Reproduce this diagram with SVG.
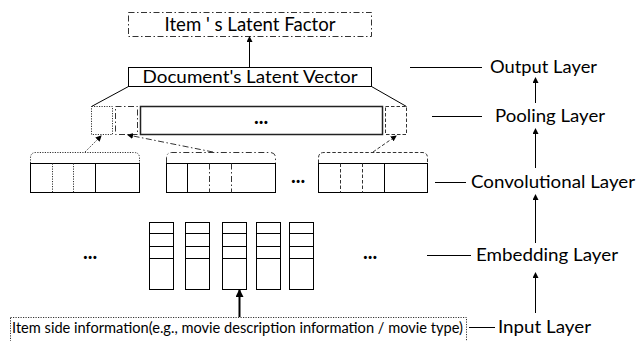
<svg xmlns="http://www.w3.org/2000/svg" width="639" height="341" viewBox="0 0 639 341">
  <defs>
    <marker id="tip" markerWidth="6" markerHeight="6" refX="5" refY="3" orient="auto" markerUnits="userSpaceOnUse">
      <path d="M0,0 L6,3 L0,6 Z" fill="#000"/>
    </marker>
    <marker id="tipBig" markerWidth="8" markerHeight="8" refX="7" refY="4" orient="auto" markerUnits="userSpaceOnUse">
      <path d="M0,0 L8,4 L0,8 Z" fill="#000"/>
    </marker>
    <style>
      text { font-family: "Lato", "Open Sans", "Liberation Sans", sans-serif; fill: #000; }
      .box { fill: #fff; stroke: #000; stroke-width: 1; }
      .solid { fill: none; stroke: #000; stroke-width: 1; }
      .dot { fill: none; stroke: #333; stroke-width: 1; stroke-dasharray: 1.2 1.3; }
      .dash { fill: none; stroke: #333; stroke-width: 1; stroke-dasharray: 3.5 2; }
      .dashdot { fill: none; stroke: #333; stroke-width: 1; stroke-dasharray: 6 2.5 1.5 2.5; }
      .lbl { font-size: 17.5px; }
      .ell { font-size: 20px; font-weight: bold; }
      .conn { fill: none; stroke: #000; stroke-width: 1; }
    </style>
  </defs>
  <rect width="639" height="341" fill="#fff"/>

  <!-- item latent factor -->
  <g id="item-factor">
    <rect x="128.5" y="12.5" width="243" height="24" class="dashdot"/>
    <text x="250" y="31" font-size="19.5" text-anchor="middle" textLength="171" lengthAdjust="spacingAndGlyphs">Item ' s Latent Factor</text>
  </g>

  <!-- document latent vector -->
  <g id="doc-vector">
    <rect x="128.5" y="67.5" width="243" height="19" class="box"/>
    <text x="250" y="83" font-size="17.5" text-anchor="middle" textLength="215" lengthAdjust="spacingAndGlyphs">Document's Latent Vector</text>
  </g>

  <!-- pooling layer -->
  <g id="pooling">
    <rect x="91.5" y="106.5" width="21" height="28" class="dot"/>
    <rect x="115.5" y="106.5" width="22" height="28" class="dashdot"/>
    <rect x="140.5" y="106.5" width="242" height="28" fill="#fff" stroke="#222" stroke-width="1.5"/>
    <text x="261" y="124" class="ell" text-anchor="middle">...</text>
    <rect x="385.5" y="106.5" width="21" height="28" class="dash"/>
  </g>

  <!-- convolution feature maps -->
  <g id="conv-1">
    <rect x="30.5" y="163.5" width="109" height="29" class="box"/>
    <line x1="52.5" y1="163.5" x2="52.5" y2="192.5" class="dot"/>
    <line x1="73.5" y1="163.5" x2="73.5" y2="192.5" class="dot"/>
    <line x1="95.5" y1="163.5" x2="95.5" y2="192.5" class="solid"/>
    <path d="M30.5,163 L30.5,158 Q30.5,152.5 36,152.5 L134,152.5 Q139.5,152.5 139.5,158 L139.5,163" class="dot"/>
  </g>
  <g id="conv-2">
    <rect x="166.5" y="163.5" width="109" height="29" class="box"/>
    <line x1="187.5" y1="163.5" x2="187.5" y2="192.5" class="solid"/>
    <line x1="209.5" y1="163.5" x2="209.5" y2="192.5" class="dashdot"/>
    <line x1="231.5" y1="163.5" x2="231.5" y2="192.5" class="dashdot"/>
    <path d="M166.5,163 L166.5,158 Q166.5,152.5 172,152.5 L270,152.5 Q275.5,152.5 275.5,158 L275.5,163" class="dashdot"/>
  </g>
  <g id="conv-ellipsis">
    <text x="298" y="183" class="ell" text-anchor="middle">...</text>
  </g>
  <g id="conv-3">
    <rect x="318.5" y="163.5" width="109" height="29" class="box"/>
    <line x1="340.5" y1="163.5" x2="340.5" y2="192.5" class="dash"/>
    <line x1="362.5" y1="163.5" x2="362.5" y2="192.5" class="dash"/>
    <line x1="384.5" y1="163.5" x2="384.5" y2="192.5" class="solid"/>
    <path d="M318.5,163 L318.5,158 Q318.5,152.5 324,152.5 L422,152.5 Q427.5,152.5 427.5,158 L427.5,163" class="dash"/>
  </g>

  <!-- embedding matrix -->
  <g id="embedding">
    <text x="90" y="259" class="ell" text-anchor="middle">...</text>
    <g id="emb-col-1">
      <rect x="149.5" y="222.5" width="24" height="67" class="box"/>
      <path d="M149.5,233.5 H173.5 M149.5,246.5 H173.5 M149.5,258.5 H173.5" class="solid"/>
    </g>
    <g id="emb-col-2">
      <rect x="185.5" y="222.5" width="24" height="67" class="box"/>
      <path d="M185.5,233.5 H209.5 M185.5,246.5 H209.5 M185.5,258.5 H209.5" class="solid"/>
    </g>
    <g id="emb-col-3">
      <rect x="222.5" y="222.5" width="24" height="67" class="box"/>
      <path d="M222.5,233.5 H246.5 M222.5,246.5 H246.5 M222.5,258.5 H246.5" class="solid"/>
    </g>
    <g id="emb-col-4">
      <rect x="256.5" y="222.5" width="24" height="67" class="box"/>
      <path d="M256.5,233.5 H280.5 M256.5,246.5 H280.5 M256.5,258.5 H280.5" class="solid"/>
    </g>
    <g id="emb-col-5">
      <rect x="289.5" y="222.5" width="24" height="67" class="box"/>
      <path d="M289.5,233.5 H313.5 M289.5,246.5 H313.5 M289.5,258.5 H313.5" class="solid"/>
    </g>
    <text x="370" y="259" class="ell" text-anchor="middle">...</text>
  </g>

  <!-- input -->
  <g id="input">
    <rect x="10.5" y="317.5" width="456" height="26" class="dot"/>
    <text x="12" y="333" font-size="14.5" textLength="451" lengthAdjust="spacingAndGlyphs">Item side information(e.g., movie description information / movie type)</text>
  </g>

  <!-- layer labels -->
  <g id="label-output"><text x="490" y="73" class="lbl" textLength="107" lengthAdjust="spacingAndGlyphs">Output Layer</text></g>
  <g id="label-pooling"><text x="495" y="122" class="lbl" textLength="110" lengthAdjust="spacingAndGlyphs">Pooling Layer</text></g>
  <g id="label-conv"><text x="471" y="188" class="lbl" textLength="164" lengthAdjust="spacingAndGlyphs">Convolutional Layer</text></g>
  <g id="label-embedding"><text x="476" y="261" class="lbl" textLength="142" lengthAdjust="spacingAndGlyphs">Embedding Layer</text></g>
  <g id="label-input"><text x="498" y="333" class="lbl" textLength="93" lengthAdjust="spacingAndGlyphs">Input Layer</text></g>

  <!-- connectors -->
  <g id="connectors">
    <line x1="249.5" y1="67" x2="249.5" y2="37" class="conn" marker-end="url(#tip)"/>
    <line x1="128.5" y1="86.5" x2="91.5" y2="106.5" class="conn"/>
    <line x1="371.5" y1="86.5" x2="406.5" y2="106.5" class="conn"/>
    <line x1="85" y1="152" x2="101" y2="136" class="dot" marker-end="url(#tip)"/>
    <line x1="213" y1="152" x2="128" y2="135" class="dashdot" marker-end="url(#tip)"/>
    <line x1="373" y1="152" x2="396" y2="136" class="dash" marker-end="url(#tip)"/>
    <line x1="239.5" y1="317" x2="239.5" y2="290" stroke="#000" stroke-width="2" marker-end="url(#tipBig)"/>
    <!-- label leaders -->
    <line x1="410" y1="67.5" x2="482" y2="67.5" class="conn"/>
    <line x1="432" y1="116.5" x2="482" y2="116.5" class="conn"/>
    <line x1="435" y1="182.5" x2="466" y2="182.5" class="conn"/>
    <line x1="427" y1="255.5" x2="471" y2="255.5" class="conn"/>
    <line x1="469" y1="327.5" x2="495" y2="327.5" class="conn"/>
    <!-- layer order arrows -->
    <line x1="535.5" y1="313" x2="535.5" y2="273" class="conn" marker-end="url(#tip)"/>
    <line x1="535.5" y1="243" x2="535.5" y2="195" class="conn" marker-end="url(#tip)"/>
    <line x1="535.5" y1="168" x2="535.5" y2="129" class="conn" marker-end="url(#tip)"/>
    <line x1="535.5" y1="103" x2="535.5" y2="78" class="conn" marker-end="url(#tip)"/>
  </g>
</svg>
